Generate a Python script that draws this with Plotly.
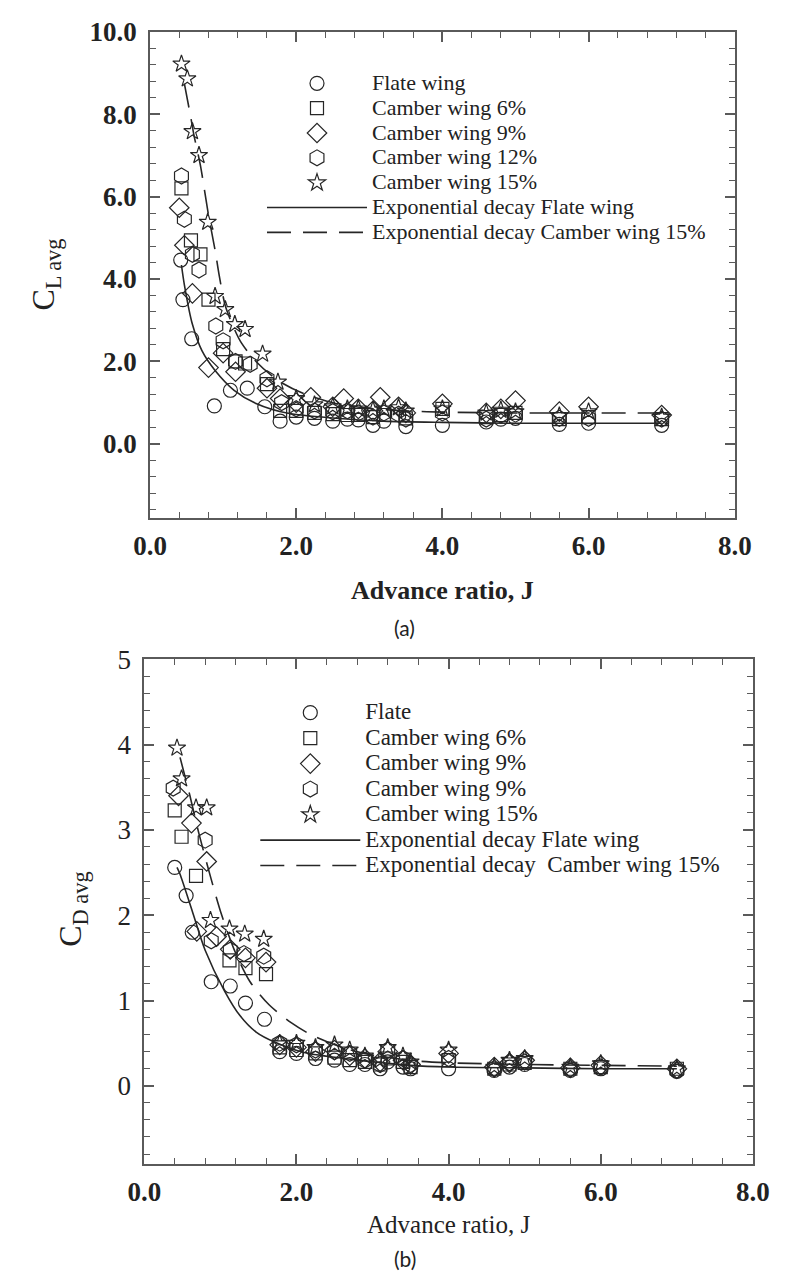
import plotly.graph_objects as go

# ---------------- (a) lift coefficient ----------------
a_flat_J = [0.42, 0.45, 0.57, 0.88, 1.1, 1.33, 1.57, 1.78, 2.0, 2.25, 2.5, 2.7, 2.85, 3.05, 3.2, 3.5, 4.0, 4.6, 4.8, 5.0, 5.6, 6.0, 7.0]
a_flat_CL = [4.46, 3.5, 2.55, 0.92, 1.3, 1.35, 0.9, 0.55, 0.65, 0.62, 0.55, 0.6, 0.58, 0.45, 0.55, 0.42, 0.45, 0.53, 0.6, 0.62, 0.47, 0.5, 0.45]

a_c6_J = [0.43, 0.56, 0.69, 0.8, 1.0, 1.17, 1.3, 1.6, 1.78, 2.0, 2.25, 2.5, 2.7, 2.85, 3.05, 3.2, 3.5, 4.0, 4.6, 4.8, 5.0, 5.6, 6.0, 7.0]
a_c6_CL = [6.2, 4.94, 4.6, 3.5, 2.3, 2.0, 1.95, 1.45, 0.8, 0.8, 0.75, 0.72, 0.7, 0.7, 0.65, 0.7, 0.62, 0.85, 0.65, 0.7, 0.75, 0.6, 0.65, 0.6]

a_c9_J = [0.4, 0.47, 0.58, 0.8, 1.0, 1.17, 1.6, 1.78, 2.0, 2.2, 2.5, 2.65, 2.85, 3.05, 3.15, 3.4, 3.5, 4.0, 4.6, 4.8, 5.0, 5.6, 6.0, 7.0]
a_c9_CL = [5.73, 4.82, 3.65, 1.85, 2.2, 1.75, 1.35, 1.1, 1.0, 1.13, 0.9, 1.1, 0.85, 0.8, 1.13, 0.9, 0.75, 0.97, 0.75, 0.85, 1.05, 0.78, 0.9, 0.7]

a_c12_J = [0.43, 0.47, 0.58, 0.67, 0.9, 1.0, 1.17, 1.37, 1.6, 1.8, 2.0, 2.25, 2.5, 2.7, 2.85, 3.05, 3.2, 3.4, 3.5, 4.0, 4.6, 4.8, 5.0, 5.6, 6.0, 7.0]
a_c12_CL = [6.5, 5.45, 4.6, 4.22, 2.86, 2.5, 2.0, 1.93, 1.58, 1.0, 0.85, 0.8, 0.78, 0.8, 0.75, 0.65, 0.75, 0.72, 0.6, 0.75, 0.6, 0.7, 0.72, 0.62, 0.62, 0.6]

a_c15_J = [0.43, 0.51, 0.58, 0.67, 0.79, 0.89, 1.03, 1.16, 1.3, 1.54, 1.75, 2.0, 2.25, 2.5, 2.7, 2.85, 3.05, 3.2, 3.4, 3.5, 4.0, 4.6, 4.8, 5.0, 5.6, 6.0, 7.0]
a_c15_CL = [9.22, 8.86, 7.58, 7.0, 5.38, 3.58, 3.26, 2.9, 2.78, 2.18, 1.5, 1.1, 0.95, 0.9, 0.85, 0.85, 0.82, 0.85, 0.88, 0.8, 0.85, 0.75, 0.82, 0.78, 0.68, 0.78, 0.65]

a_fit_flat_J = [0.43, 0.47, 0.58, 0.71, 0.89, 1.15, 1.45, 1.89, 2.54, 3.2, 4.0, 5.0, 6.0, 7.0]
a_fit_flat_CL = [4.34, 3.86, 2.9, 2.26, 1.78, 1.3, 0.98, 0.74, 0.62, 0.55, 0.52, 0.5, 0.5, 0.5]

a_fit_c15_J = [0.47, 0.56, 0.6, 0.69, 0.8, 0.89, 0.95, 1.03, 1.15, 1.25, 1.45, 1.75, 2.1, 2.54, 3.0, 3.5, 4.0, 5.0, 6.0, 7.0]
a_fit_c15_CL = [8.74, 7.9, 7.5, 6.75, 5.55, 4.7, 4.05, 3.35, 2.8, 2.45, 2.0, 1.54, 1.22, 0.98, 0.86, 0.8, 0.77, 0.75, 0.75, 0.75]

a_names = ["Flate wing", "Camber wing 6%", "Camber wing 9%", "Camber wing 12%", "Camber wing 15%",
           "Exponential decay Flate wing", "Exponential decay Camber wing 15%"]

# ---------------- (b) drag coefficient ----------------
b_flat_J = [0.4, 0.55, 0.63, 0.88, 1.13, 1.33, 1.58, 1.78, 2.0, 2.25, 2.5, 2.7, 2.9, 3.1, 3.2, 3.4, 3.5, 4.0, 4.6, 4.8, 5.0, 5.6, 6.0, 7.0]
b_flat_CD = [2.56, 2.23, 1.8, 1.22, 1.17, 0.97, 0.78, 0.4, 0.38, 0.32, 0.3, 0.25, 0.25, 0.2, 0.28, 0.22, 0.2, 0.2, 0.18, 0.22, 0.25, 0.18, 0.2, 0.17]

b_c6_J = [0.4, 0.49, 0.68, 1.12, 1.33, 1.6, 1.78, 2.0, 2.25, 2.5, 2.7, 2.9, 3.1, 3.2, 3.4, 3.5, 4.0, 4.6, 4.8, 5.0, 5.6, 6.0, 7.0]
b_c6_CD = [3.23, 2.92, 2.46, 1.47, 1.38, 1.31, 0.45, 0.42, 0.38, 0.33, 0.3, 0.28, 0.25, 0.32, 0.28, 0.22, 0.3, 0.2, 0.25, 0.27, 0.2, 0.22, 0.2]

b_c9_J = [0.45, 0.62, 0.82, 0.69, 0.95, 1.13, 1.33, 1.6, 1.78, 2.0, 2.25, 2.5, 2.7, 2.9, 3.1, 3.2, 3.4, 3.5, 4.0, 4.6, 4.8, 5.0, 5.6, 6.0, 7.0]
b_c9_CD = [3.4, 3.08, 2.63, 1.81, 1.75, 1.6, 1.5, 1.45, 0.48, 0.45, 0.4, 0.42, 0.35, 0.32, 0.28, 0.4, 0.3, 0.25, 0.38, 0.22, 0.27, 0.3, 0.21, 0.24, 0.2]

b_c9b_J = [0.38, 0.8, 0.88, 1.13, 1.31, 1.57, 1.78, 2.0, 2.25, 2.5, 2.7, 2.9, 3.1, 3.2, 3.4, 3.5, 4.0, 4.6, 4.8, 5.0, 5.6, 6.0, 7.0]
b_c9b_CD = [3.49, 2.88, 1.7, 1.59, 1.55, 1.52, 0.5, 0.48, 0.42, 0.4, 0.38, 0.3, 0.25, 0.42, 0.32, 0.25, 0.32, 0.2, 0.27, 0.28, 0.2, 0.22, 0.18]

b_c15_J = [0.43, 0.49, 0.68, 0.82, 0.87, 1.12, 1.32, 1.57, 1.78, 2.0, 2.25, 2.5, 2.7, 2.9, 3.1, 3.2, 3.4, 3.5, 4.0, 4.6, 4.8, 5.0, 5.6, 6.0, 7.0]
b_c15_CD = [3.96, 3.6, 3.26, 3.26, 1.94, 1.84, 1.78, 1.72, 0.5, 0.5, 0.45, 0.48, 0.42, 0.35, 0.3, 0.45, 0.35, 0.28, 0.42, 0.22, 0.3, 0.32, 0.22, 0.26, 0.2]

b_fit_flat_J = [0.43, 0.47, 0.63, 0.8, 1.05, 1.26, 1.47, 1.72, 2.1, 2.73, 3.5, 4.0, 5.0, 6.0, 7.0]
b_fit_flat_CD = [2.56, 2.48, 2.05, 1.59, 1.12, 0.82, 0.63, 0.51, 0.39, 0.31, 0.24, 0.22, 0.21, 0.2, 0.2]

b_fit_c15_J = [0.47, 0.6, 0.72, 0.88, 1.0, 1.18, 1.39, 1.64, 1.93, 2.19, 2.6, 3.0, 3.6, 4.0, 5.0, 6.0, 7.0]
b_fit_c15_CD = [3.85, 3.4, 2.95, 2.42, 2.05, 1.6, 1.22, 0.95, 0.74, 0.6, 0.45, 0.36, 0.29, 0.27, 0.25, 0.24, 0.23]

b_names = ["Flate", "Camber wing 6%", "Camber wing 9%", "Camber wing 9%", "Camber wing 15%",
           "Exponential decay Flate wing", "Exponential decay  Camber wing 15%"]

a_xticks = [0, 2, 4, 6, 8]
a_xlabels = ["0.0", "2.0", "4.0", "6.0", "8.0"]
a_yticks = [0, 2, 4, 6, 8, 10]
a_ylabels = ["0.0", "2.0", "4.0", "6.0", "8.0", "10.0"]
b_yticks = [0, 1, 2, 3, 4, 5]
b_ylabels = ["0", "1", "2", "3", "4", "5"]

W, H = 791, 1272
SERIF = "Liberation Serif"
INK = "#262626"
FRAME = "#5a5a5a"

fig = go.Figure()

symbols = ["circle-open", "square-open", "diamond-open", "hexagon-open", "star-open"]
sizes = [14, 13, 15, 16, 13]


def label(name, px):
    return '<span style="font-size:%spx">%s</span>' % (px, name)


def add_points(J, V, name, k, xa, ya, leg):
    fig.add_trace(go.Scatter(
        x=J, y=V, mode="markers", name=name, xaxis=xa, yaxis=ya, legend=leg,
        marker=dict(symbol=symbols[k], size=sizes[k], color=INK, line=dict(width=1.2))))


def add_fit(J, V, name, dash, xa, ya, leg):
    fig.add_trace(go.Scatter(
        x=J, y=V, mode="lines", name=name, xaxis=xa, yaxis=ya, legend=leg,
        line=dict(color=INK, width=1.6, dash=dash, shape="spline", smoothing=0.8)))


A_TXT, B_TXT = 22, 23
a_sets = [(a_flat_J, a_flat_CL), (a_c6_J, a_c6_CL), (a_c9_J, a_c9_CL), (a_c12_J, a_c12_CL), (a_c15_J, a_c15_CL)]
for k, (J, V) in enumerate(a_sets):
    add_points(J, V, label(a_names[k], A_TXT), k, "x", "y", "legend")
add_fit(a_fit_flat_J, a_fit_flat_CL, label(a_names[5], A_TXT), "solid", "x", "y", "legend")
add_fit(a_fit_c15_J, a_fit_c15_CL, label(a_names[6], A_TXT), "24px,12px", "x", "y", "legend")

b_sets = [(b_flat_J, b_flat_CD), (b_c6_J, b_c6_CD), (b_c9_J, b_c9_CD), (b_c9b_J, b_c9b_CD), (b_c15_J, b_c15_CD)]
for k, (J, V) in enumerate(b_sets):
    add_points(J, V, label(b_names[k], B_TXT), k, "x2", "y2", "legend2")
add_fit(b_fit_flat_J, b_fit_flat_CD, label(b_names[5], B_TXT), "solid", "x2", "y2", "legend2")
add_fit(b_fit_c15_J, b_fit_c15_CD, label(b_names[6], B_TXT).replace("  ", "&nbsp; "), "24px,12px", "x2", "y2", "legend2")


def px_x(v):
    return v / W


def px_y(v):
    return 1 - v / H


def axis(domain, rng, tickvals, ticktext, minor_dtick, anchor, standoff):
    return dict(
        domain=domain, range=rng, anchor=anchor, tickmode="array", tickvals=tickvals, ticktext=ticktext,
        showline=True, linecolor=FRAME, linewidth=2, mirror="allticks",
        ticks="inside", ticklen=10, tickwidth=1.5, tickcolor=FRAME,
        minor=dict(dtick=minor_dtick, tick0=0, ticks="inside", ticklen=6, tickwidth=1.2, tickcolor=FRAME),
        showgrid=False, zeroline=False, ticklabelstandoff=standoff,
        tickfont=dict(family=SERIF, size=27, color="#222", weight="bold"))


def legend_box(x, y, fs):
    return dict(x=x, y=y, font=dict(family=SERIF, size=fs, color="#222"), bgcolor="rgba(0,0,0,0)",
                borderwidth=0, itemwidth=100, tracegroupgap=0, xanchor="left", yanchor="top",
                itemclick=False, itemdoubleclick=False)


fig.update_layout(
    width=W, height=H, margin=dict(l=0, r=0, t=0, b=0),
    paper_bgcolor="white", plot_bgcolor="white", showlegend=True,
    xaxis=axis([px_x(139), px_x(750)], [0, 8], a_xticks, a_xlabels, 0.4, "y", 3),
    yaxis=axis([px_y(509), px_y(17)], [-1.8, 10.0], a_yticks, a_ylabels, 0.4, "x", 6),
    xaxis2=axis([px_x(133), px_x(769)], [0, 8], a_xticks, a_xlabels, 0.4, "y2", 2),
    yaxis2=axis([px_y(1163), px_y(652)], [-0.92, 5.0], b_yticks, b_ylabels, 0.2, "x2", 6),
    legend=legend_box(px_x(256), px_y(51.5), 16.8),
    legend2=legend_box(px_x(249), px_y(688), 17.3),
)
fig.update_yaxes(selector=dict(anchor="x2"), tickfont=dict(weight="normal"))

ann = [
    dict(text="C<sub>L avg</sub>", x=px_x(30), y=px_y(263), textangle=-90,
         font=dict(family=SERIF, size=32, color="#222")),
    dict(text="C<sub>D avg</sub>", x=px_x(58), y=px_y(905), textangle=-90,
         font=dict(family=SERIF, size=32, color="#222")),
    dict(text="<b>Advance ratio, J</b>", x=px_x(445), y=px_y(582),
         font=dict(family=SERIF, size=26, color="#222")),
    dict(text="Advance ratio, J", x=px_x(451), y=px_y(1224),
         font=dict(family=SERIF, size=25, color="#222")),
    dict(text="(a)", x=px_x(405), y=px_y(620), font=dict(family="Lato", size=21, color="#222")),
    dict(text="(b)", x=px_x(405), y=px_y(1258), font=dict(family="Lato", size=21, color="#222")),
]
for a in ann:
    a.update(xref="paper", yref="paper", showarrow=False, xanchor="center", yanchor="middle")
fig.update_layout(annotations=ann)

fig.write_html(
    "out.html",
    config={"displayModeBar": False},
    post_script="document.body.style.margin='0';document.body.style.overflow='hidden';"
                "document.documentElement.style.overflow='hidden';")
